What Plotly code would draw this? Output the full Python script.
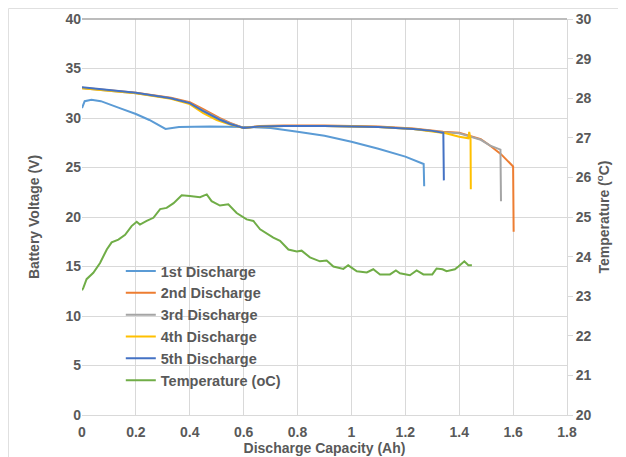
import plotly.graph_objects as go

# ---- data ----
cap1 = [0, 0.01, 0.035, 0.07, 0.14, 0.2, 0.25, 0.31, 0.36, 0.475, 0.6, 0.7, 0.8, 0.9, 1.0, 1.1, 1.2, 1.268, 1.27]
v1 = [31.0, 31.7, 31.85, 31.7, 31.0, 30.4, 29.8, 28.9, 29.1, 29.15, 29.1, 29.0, 28.6, 28.2, 27.6, 26.9, 26.1, 25.35, 23.1]

cap2 = [0, 0.1, 0.2, 0.33, 0.4, 0.45, 0.51, 0.55, 0.6, 0.66, 0.75, 0.9, 1.0, 1.1, 1.23, 1.34, 1.4, 1.48, 1.515, 1.555, 1.6, 1.602]
v2 = [33.05, 32.8, 32.55, 32.05, 31.6, 30.9, 30.0, 29.5, 29.0, 29.2, 29.25, 29.25, 29.2, 29.15, 28.95, 28.6, 28.5, 27.85, 27.2, 26.35, 25.1, 18.5]

cap3 = [0, 0.1, 0.2, 0.33, 0.4, 0.45, 0.51, 0.55, 0.6, 0.66, 0.75, 0.9, 1.0, 1.1, 1.23, 1.34, 1.4, 1.48, 1.515, 1.553, 1.555]
v3 = [33.0, 32.75, 32.5, 32.0, 31.5, 30.75, 29.9, 29.45, 29.0, 29.15, 29.2, 29.2, 29.15, 29.1, 28.9, 28.55, 28.45, 27.8, 27.2, 26.8, 21.6]

cap4 = [0, 0.1, 0.2, 0.33, 0.4, 0.45, 0.5, 0.55, 0.6, 0.66, 0.75, 0.9, 1.0, 1.1, 1.23, 1.35, 1.4, 1.434, 1.437, 1.44, 1.442, 1.443]
v4 = [33.0, 32.75, 32.5, 31.95, 31.4, 30.5, 29.8, 29.35, 29.0, 29.15, 29.2, 29.2, 29.15, 29.1, 28.9, 28.45, 28.1, 27.95, 28.6, 27.9, 27.9, 22.8]

cap5 = [0, 0.1, 0.2, 0.33, 0.4, 0.45, 0.51, 0.55, 0.6, 0.66, 0.75, 0.9, 1.0, 1.1, 1.23, 1.3, 1.341, 1.343]
v5 = [33.1, 32.8, 32.55, 32.0, 31.5, 30.7, 29.85, 29.4, 29.0, 29.15, 29.2, 29.2, 29.15, 29.1, 28.9, 28.7, 28.5, 23.7]

cap_t = [0.0, 0.005, 0.017, 0.042, 0.067, 0.092, 0.11, 0.135, 0.16, 0.184, 0.203, 0.215, 0.24, 0.265,
         0.29, 0.314, 0.34, 0.37, 0.40, 0.438, 0.463, 0.481, 0.512, 0.543, 0.574, 0.611, 0.636, 0.661,
         0.71, 0.735, 0.766, 0.797, 0.815, 0.846, 0.883, 0.908, 0.933, 0.97, 0.988, 1.02, 1.057, 1.081,
         1.106, 1.143, 1.165, 1.18, 1.217, 1.242, 1.267, 1.30, 1.316, 1.338, 1.353, 1.384, 1.397, 1.419,
         1.434, 1.447]
temp = [23.15, 23.21, 23.43, 23.59, 23.84, 24.18, 24.36, 24.43, 24.55, 24.77, 24.88, 24.81, 24.90, 24.98,
        25.20, 25.23, 25.35, 25.55, 25.53, 25.50, 25.57, 25.40, 25.29, 25.32, 25.10, 24.94, 24.90, 24.69,
        24.48, 24.40, 24.18, 24.13, 24.15, 23.98, 23.88, 23.90, 23.75, 23.69, 23.78, 23.63, 23.60, 23.68,
        23.55, 23.55, 23.65, 23.58, 23.53, 23.65, 23.55, 23.55, 23.70, 23.68, 23.63, 23.68, 23.75, 23.88,
        23.78, 23.78]

names = ["1st Discharge", "2nd Discharge", "3rd Discharge", "4th Discharge", "5th Discharge", "Temperature (oC)"]
colors = ["#5B9BD5", "#ED7D31", "#A5A5A5", "#FFC000", "#4472C4", "#70AD47"]

xticks = [0, 0.2, 0.4, 0.6, 0.8, 1, 1.2, 1.4, 1.6, 1.8]
xticklabels = ["0", "0.2", "0.4", "0.6", "0.8", "1", "1.2", "1.4", "1.6", "1.8"]

# ---- figure ----
fig = go.Figure()
series = [(cap1, v1), (cap2, v2), (cap3, v3), (cap4, v4), (cap5, v5)]
for (cx, cy), n, c in zip(series, names[:5], colors[:5]):
    fig.add_trace(go.Scatter(x=cx, y=cy, mode="lines", name=n,
                             line=dict(color=c, width=2), yaxis="y"))
fig.add_trace(go.Scatter(x=cap_t, y=temp, mode="lines", name=names[5],
                         line=dict(color=colors[5], width=2), yaxis="y2"))

txt = "#595959"
font = "Liberation Sans, Arial, sans-serif"
tf = dict(size=14, color=txt, weight="bold")
fig.update_layout(
    width=618, height=449,
    margin=dict(l=74, r=59, t=11, b=42, autoexpand=False),
    paper_bgcolor="white", plot_bgcolor="white",
    font=dict(family=font, color=txt, size=14),
    showlegend=True,
    legend=dict(x=0.080, y=0.404, xanchor="left", yanchor="top",
                bgcolor="rgba(0,0,0,0)", font=dict(size=14.5, color=txt, weight="bold"),
                tracegroupgap=0),
    xaxis=dict(range=[0, 1.8], tickvals=xticks, ticktext=xticklabels, automargin=False,
               showgrid=True, gridcolor="#D9D9D9", gridwidth=1,
               showline=True, linecolor="#D9D9D9", zeroline=False,
               ticks="", ticklabelstandoff=4, tickfont=tf,
               title=dict(text="<b>Discharge Capacity (Ah)</b>", font=dict(size=14, color=txt), standoff=2)),
    yaxis=dict(range=[0, 40], dtick=5, showgrid=True, gridcolor="#D9D9D9", gridwidth=1,
               zeroline=False, showline=False, ticks="", automargin=False,
               tickfont=tf,
               title=dict(text="<b>Battery Voltage (V)</b>", font=dict(size=14, color=txt), standoff=22)),
    yaxis2=dict(range=[20, 30], dtick=1, overlaying="y", side="right", automargin=False,
                showgrid=False, zeroline=False, showline=True, linecolor="#D9D9D9",
                ticks="outside", ticklen=5, tickcolor="#D9D9D9",
                tickfont=tf,
                title=dict(text="<b>Temperature (<sup>o</sup>C)</b>", font=dict(size=14, color=txt), standoff=8)),
    shapes=[
        dict(type="line", xref="paper", yref="paper", x0=0, x1=1, y0=1, y1=1,
             line=dict(color="#A6A6A6", width=1.5)),
        dict(type="rect", xref="paper", yref="paper",
             x0=-0.1515, x1=1.3, y0=1.0265, y1=-0.2,
             line=dict(color="#E0E0E0", width=1), fillcolor="rgba(0,0,0,0)"),
    ],
)

fig.write_html("out.html")
